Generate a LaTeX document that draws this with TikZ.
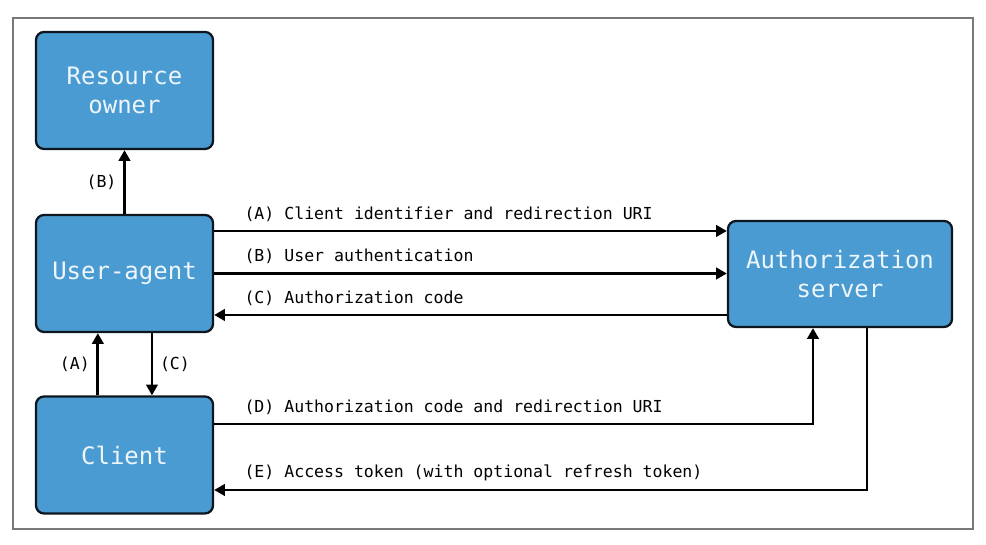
\documentclass[tikz,border=0pt]{standalone}
\usepackage{fontspec}
\setmonofont{DejaVu Sans Mono}
\usetikzlibrary{arrows.meta,positioning,calc}
\definecolor{boxblue}{RGB}{74,155,209}
\definecolor{boxedge}{RGB}{14,22,32}
\definecolor{boxtext}{RGB}{238,246,252}
\definecolor{framegray}{RGB}{120,120,120}

\begin{document}
\begin{tikzpicture}[x=0.75pt,y=0.75pt,
    party/.style={draw=boxedge,line width=1.7pt,fill=boxblue,rounded corners=6pt,
      text=boxtext,font=\ttfamily\fontsize{18}{22}\selectfont,align=center,
      minimum width=132.75pt,minimum height=87.75pt,inner sep=0pt},
    flow/.style={line width=2.1pt,-{Triangle[length=8pt,width=8.5pt]}},
    lab/.style={font=\ttfamily\fontsize{12.4}{14}\selectfont,inner sep=1pt}]
    \useasboundingbox (0,0) rectangle (986,545);
    \draw[framegray,line width=1.2pt] (13,16) rectangle (973,527);
    % parties
    \node[party] (owner) at (124.5,454.5) {Resource\\owner};
    \node[party] (ua) at (124.5,271.5) {User-agent};
    \node[party] (client) at (124.5,90) {Client};
    \node[party,minimum width=168pt,minimum height=79.5pt] (auth) at (840,271) {Authorization\\server};
    % vertical flows
    \draw[flow] (ua.north) -- node[lab,left=4pt] (labB1) {(B)} (owner.south);
    \draw[flow] ([xshift=-20pt]client.north) -- node[lab,left=4pt] (labA1) {(A)} ([xshift=-20pt]ua.south);
    \draw[flow] ([xshift=20.6pt]ua.south) -- node[lab,right=4pt] (labC1) {(C)} ([xshift=20.6pt]client.north);
    % user-agent <-> authorization server
    \draw[flow] ([yshift=31.9pt]ua.east) -- node[lab,pos=0,anchor=south west,xshift=20.75pt,yshift=5pt] (labA2)
      {(A) Client identifier and redirection URI} ([yshift=31.9pt]ua.east -| auth.west);
    \draw[flow] (ua.east) -- node[lab,pos=0,anchor=south west,xshift=20.75pt,yshift=5pt] (labB2)
      {(B) User authentication} (ua.east -| auth.west);
    \draw[flow] ([yshift=-31.1pt]ua.east -| auth.west) -- node[lab,pos=1,anchor=south west,xshift=20.75pt,yshift=5pt] (labC2)
      {(C) Authorization code} ([yshift=-31.1pt]ua.east);
    % client <-> authorization server
    \draw[flow] ([yshift=23.25pt]client.east) -| node[lab,pos=0,anchor=south west,xshift=20.75pt,yshift=5pt] (labD)
      {(D) Authorization code and redirection URI} ([xshift=-20.25pt]auth.south);
    \draw[flow] ([xshift=20.25pt]auth.south) |- node[lab,pos=1,anchor=south west,xshift=20.75pt,yshift=5pt] (labE)
      {(E) Access token (with optional refresh token)} ([yshift=-26.25pt]client.east);
\end{tikzpicture}
\end{document}
